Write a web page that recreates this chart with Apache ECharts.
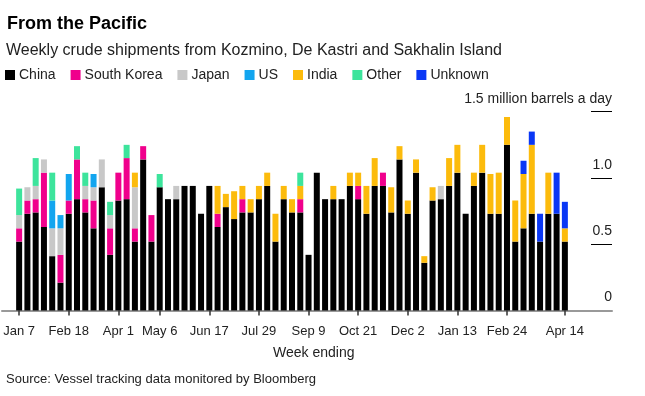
<!DOCTYPE html>
<html><head><meta charset="utf-8">
<script src="https://cdn.jsdelivr.net/npm/echarts@6/dist/echarts.min.js"></script>
<style>html,body{margin:0;padding:0;background:#fff}#c{width:645px;height:396px}</style>
</head><body><div id="c"></div>
<script>
const weeks = ["Jan 7","Jan 14","Jan 21","Jan 28","Feb 4","Feb 11","Feb 18","Feb 25","Mar 4","Mar 11","Mar 18","Mar 25","Apr 1","Apr 8","Apr 15","Apr 22","Apr 29","May 6","May 13","May 20","May 27","Jun 3","Jun 10","Jun 17","Jun 24","Jul 1","Jul 8","Jul 15","Jul 22","Jul 29","Aug 5","Aug 12","Aug 19","Aug 26","Sep 2","Sep 9","Sep 16","Sep 23","Sep 30","Oct 7","Oct 14","Oct 21","Oct 28","Nov 4","Nov 11","Nov 18","Nov 25","Dec 2","Dec 9","Dec 16","Dec 23","Dec 30","Jan 6","Jan 13","Jan 20","Jan 27","Feb 3","Feb 10","Feb 17","Feb 24","Mar 3","Mar 10","Mar 17","Mar 24","Mar 31","Apr 7","Apr 14"];
const tickLabels = ["Jan 7","Feb 18","Apr 1","May 6","Jun 17","Jul 29","Sep 9","Oct 21","Dec 2","Jan 13","Feb 24","Apr 14"];
const tickIndices = [0,6,12,17,23,29,35,41,47,53,59,66];
const seriesNames = ["China","South Korea","Japan","US","India","Other","Unknown"];
const china = [0.52,0.73,0.74,0.63,0.41,0.21,0.73,0.84,0.74,0.62,0.93,0.42,0.83,0.84,0.52,1.14,0.52,0.93,0.84,0.84,0.94,0.94,0.73,0.94,0.63,0.78,0.69,0.74,0.74,0.84,0.94,0.52,0.84,0.74,0.74,0.42,1.04,0.84,0.84,0.84,0.94,0.84,0.73,0.94,0.94,0.74,1.14,0.73,1.04,0.36,0.83,0.84,0.94,1.04,0.73,0.94,1.04,0.73,0.73,1.25,0.52,0.62,0.73,0.52,0.73,0.73,0.52];
const southKorea = [0.10,0.10,0.10,0.41,0,0.21,0.10,0.30,0.10,0.21,0,0.20,0.21,0.31,0.10,0.10,0.20,0,0,0,0,0,0,0,0.10,0,0,0.10,0,0,0,0,0,0,0.10,0,0,0,0,0,0,0.10,0,0,0.10,0,0,0,0,0,0,0,0,0,0,0,0,0,0,0,0,0,0,0,0,0,0];
const japan = [0.10,0.10,0.10,0.10,0.21,0.20,0,0,0.10,0.10,0.21,0.10,0,0,0.31,0,0,0,0,0.10,0,0,0,0,0,0,0,0,0,0,0,0,0,0,0,0,0,0,0,0,0,0,0,0,0,0,0,0,0,0,0,0.10,0,0,0,0,0,0,0,0,0,0,0,0,0,0,0];
const us = [0,0,0,0,0.21,0.10,0.20,0,0,0.10,0,0,0,0,0,0,0,0,0,0,0,0,0,0,0,0,0,0,0,0,0,0,0,0,0,0,0,0,0,0,0,0,0,0,0,0,0,0,0,0,0,0,0,0,0,0,0,0,0,0,0,0,0,0,0,0,0];
const india = [0,0,0,0,0,0,0,0,0,0,0,0,0,0,0.11,0,0,0,0,0,0,0,0,0,0.21,0.10,0.21,0.10,0.10,0.10,0.10,0.21,0.10,0.10,0.10,0,0,0,0.10,0,0.10,0.10,0.21,0.21,0,0.19,0.10,0.10,0.10,0.05,0.10,0,0.21,0.21,0,0.10,0.21,0.30,0.31,0.21,0.31,0.41,0.52,0,0.31,0,0.10];
const other = [0.20,0,0.21,0,0.21,0,0,0.10,0.10,0,0,0.10,0,0.10,0,0,0,0.10,0,0,0,0,0,0,0,0,0,0,0,0,0,0,0,0,0.10,0,0,0,0,0,0,0,0,0,0,0,0,0,0,0,0,0,0,0,0,0,0,0,0,0,0,0,0,0,0,0,0];
const unknown = [0,0,0,0,0,0,0,0,0,0,0,0,0,0,0,0,0,0,0,0,0,0,0,0,0,0,0,0,0,0,0,0,0,0,0,0,0,0,0,0,0,0,0,0,0,0,0,0,0,0,0,0,0,0,0,0,0,0,0,0,0,0.10,0.10,0.21,0,0.31,0.20];
const yTicks = [0,0.5,1.0,1.5];
const yLabels = ["0","0.5","1.0","1.5 million barrels a day"];

const colors = ["#000000","#f0008c","#c8c8c8","#12a5ef","#fcbb0c","#3de49c","#0a37f5"];
const seriesData = [china, southKorea, japan, us, india, other, unknown];
const FONT = "'Liberation Sans', Arial, sans-serif";
const gTop = 111.7, gBottom = 85.5;

const chart = echarts.init(document.getElementById('c'), null, {renderer:'canvas'});
chart.setOption({
  animation:false,
  backgroundColor:'#fff',
  color: colors,
  textStyle:{fontFamily:FONT},
  title:[
    {text:"From the Pacific", left:2, top:10, textStyle:{fontFamily:FONT,fontSize:18,fontWeight:'bold',color:'#000'}},
    {text:"Weekly crude shipments from Kozmino, De Kastri and Sakhalin Island", left:1, top:38, textStyle:{fontFamily:FONT,fontSize:16,fontWeight:'normal',color:'#222'}},
    {text:"Week ending", left:268, top:341, textStyle:{fontFamily:FONT,fontSize:14,fontWeight:'normal',color:'#222'}},
    {text:"Source: Vessel tracking data monitored by Bloomberg", left:1, top:368, textStyle:{fontFamily:FONT,fontSize:13,fontWeight:'normal',color:'#222'}}
  ],
  legend:{
    data: seriesNames, left:0, top:63, icon:'rect', itemWidth:10, itemHeight:10, itemGap:15,
    textStyle:{fontFamily:FONT,fontSize:14,color:'#222',padding:[0,0,0,-1]}, selectedMode:false
  },
  grid:[
    {left:15, right:76, top:gTop, bottom:gBottom},
    {left:2, right:33, top:gTop, bottom:gBottom},
    {left:591, right:33, top:gTop, bottom:gBottom}
  ],
  xAxis:[
    {type:'category', gridIndex:0, data:weeks, boundaryGap:true,
     axisLine:{show:false},
     axisTick:{show:true, alignWithLabel:true, length:5, lineStyle:{color:'#333',width:1.5},
       interval:(i)=>tickIndices.indexOf(i)>=0},
     axisLabel:{interval:(i)=>tickIndices.indexOf(i)>=0, margin:14, fontFamily:FONT, fontSize:13, color:'#222',
       formatter:(v,i)=>{const k=tickIndices.indexOf(i); return k>=0?tickLabels[k]:'';}}},
    {type:'value', gridIndex:1, min:0, max:1,
     axisLine:{show:true, onZero:false, lineStyle:{color:'#999',width:2}},
     axisTick:{show:false}, axisLabel:{show:false}, splitLine:{show:false}},
    {type:'value', gridIndex:2, min:0, max:1, show:false}
  ],
  yAxis:[
    {type:'value', gridIndex:0, min:0, max:1.5, interval:0.5, show:false},
    {type:'value', gridIndex:1, min:0, max:1.5, show:false},
    {type:'value', gridIndex:2, min:0, max:1.5, interval:0.5, position:'right',
     axisLine:{show:false}, axisTick:{show:false},
     splitLine:{show:true, lineStyle:{color:'#000',width:1}},
     axisLabel:{inside:true, margin:0, verticalAlign:'bottom', padding:[0,0,6,0], fontFamily:FONT, fontSize:14, color:'#222',
       formatter:(v)=>{const k=yTicks.findIndex(t=>Math.abs(t-v)<1e-6); return k>=0?yLabels[k]:'';}}}
  ],
  series: seriesNames.map((n,k)=>({
    name:n, type:'bar', stack:'total', xAxisIndex:0, yAxisIndex:0,
    barWidth:6, data: seriesData[k], itemStyle:{color:colors[k]}
  }))
});
</script></body></html>
